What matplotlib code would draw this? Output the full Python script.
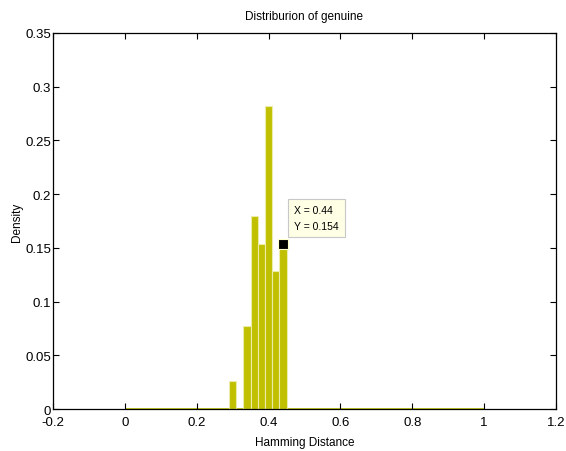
import matplotlib
matplotlib.use("Agg")
import matplotlib.pyplot as plt
import numpy as np

plt.rcParams['font.family'] = ['Liberation Sans', 'DejaVu Sans']

# histogram of genuine Hamming distances (39 samples, bin width 0.02)
bin_centers = [0.30, 0.34, 0.36, 0.38, 0.40, 0.42, 0.44]
bin_counts = [1, 3, 7, 6, 11, 5, 6]
n_samples = 39
bin_width = 0.02
hist_range = (0.0, 1.0)

x_ticks = [-0.2, 0, 0.2, 0.4, 0.6, 0.8, 1, 1.2]
x_tick_labels = ['-0.2', '0', '0.2', '0.4', '0.6', '0.8', '1', '1.2']
y_ticks = [0, 0.05, 0.1, 0.15, 0.2, 0.25, 0.3, 0.35]
y_tick_labels = ['0', '0.05', '0.1', '0.15', '0.2', '0.25', '0.3', '0.35']

tip_x, tip_y = 0.44, 0.154

density = np.array(bin_counts) / n_samples

fig = plt.figure(figsize=(5.66, 4.52), dpi=100)
ax = fig.add_axes([0.0936, 0.0929, 0.8887, 0.8319])

bar_color = '#c0c000'
ax.hlines(0, hist_range[0], hist_range[1], color=bar_color, lw=1.2, zorder=1)
ax.bar(bin_centers, density, width=bin_width, color=bar_color,
       edgecolor='#ececa8', linewidth=0.8, zorder=2)

ax.set_xlim(-0.2, 1.2)
ax.set_ylim(0, 0.35)
ax.set_xticks(x_ticks)
ax.set_xticklabels(x_tick_labels)
ax.set_yticks(y_ticks)
ax.set_yticklabels(y_tick_labels)
ax.tick_params(direction='in', length=4, width=0.8, labelsize=9.5,
               top=True, right=True)
ax.tick_params(axis='x', pad=5)
ax.tick_params(axis='y', pad=1.5)
for s in ax.spines.values():
    s.set_linewidth(0.9)

ax.set_title('Distriburion of genuine', fontsize=8.5, pad=10)
ax.set_xlabel('Hamming Distance', fontsize=8.5, labelpad=6)
ax.set_ylabel('Density', fontsize=8.5, labelpad=1.5)

# data tip
ax.plot([tip_x], [tip_y], marker='s', markersize=7, color='black',
        markeredgecolor='#ffffcc', markeredgewidth=0.8, zorder=5)
ax.annotate('X = %.2f\nY = %.3f' % (tip_x, tip_y), xy=(tip_x, tip_y),
            xytext=(8, 9), textcoords='offset points', fontsize=7.5,
            ha='left', va='bottom', linespacing=1.7,
            bbox=dict(boxstyle='square,pad=0.6', fc='#ffffe6', ec='#c8c8c8', lw=0.8),
            zorder=6)

fig.savefig('out.png', dpi=100)
